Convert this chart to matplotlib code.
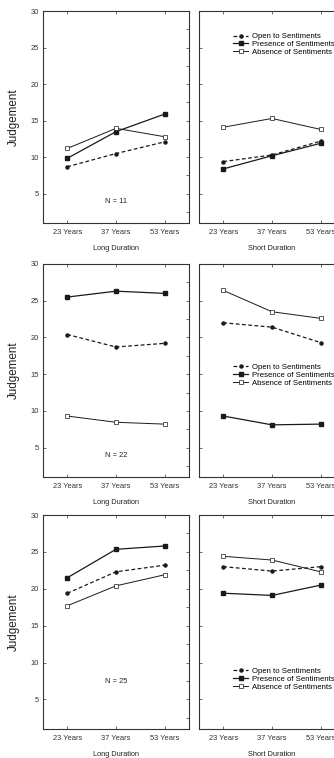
import matplotlib.pyplot as plt
from matplotlib.ticker import MultipleLocator

plt.rcParams['font.family'] = ['Liberation Sans', 'DejaVu Sans']

years = ['23 Years', '37 Years', '53 Years']
durations = ['Long Duration', 'Short Duration']
group_n = [11, 22, 25]

# values per group: [long, short]
open_vals = [
    [[8.7, 10.5, 12.1], [9.4, 10.3, 12.2]],
    [[20.4, 18.7, 19.2], [22.0, 21.4, 19.3]],
    [[19.4, 22.3, 23.2], [23.0, 22.4, 23.0]],
]
presence_vals = [
    [[9.85, 13.5, 15.9], [8.4, 10.2, 11.9]],
    [[25.5, 26.3, 26.0], [9.3, 8.1, 8.2]],
    [[21.5, 25.35, 25.8], [19.4, 19.1, 20.5]],
]
absence_vals = [
    [[11.2, 13.95, 12.8], [14.1, 15.3, 13.8]],
    [[9.3, 8.45, 8.2], [26.4, 23.5, 22.6]],
    [[17.7, 20.4, 21.9], [24.4, 23.9, 22.3]],
]

# legend anchor (axes coords) for the short-duration panel of each row
legend_pos = [(0.235, 0.897), (0.235, 0.532), (0.235, 0.287)]
n_pos = [0.1, 0.1, 0.22]

W, H = 334, 758
fig = plt.figure(figsize=(W / 100, H / 100), dpi=100)

rows = [(11, 223), (264, 477), (515, 729)]
cols = [43, 199]
axw = 146

ink = '#1a1a1a'

for r, (top, bot) in enumerate(rows):
    for c, x0 in enumerate(cols):
        ax = fig.add_axes([x0 / W, 1 - bot / H, axw / W, (bot - top) / H])
        xs = range(len(years))
        ax.plot(xs, open_vals[r][c], color=ink, ls=(0, (3, 2)), lw=0.9,
                marker='o', ms=2.2, mfc=ink, mec=ink,
                label='Open to Sentiments')
        ax.plot(xs, presence_vals[r][c], color=ink, ls='-', lw=0.9,
                marker='s', ms=2.8, mfc=ink, mec=ink,
                label='Presence of Sentiments')
        ax.plot(xs, absence_vals[r][c], color=ink, ls='-', lw=0.7,
                marker='s', ms=2.8, mfc='white', mec=ink, mew=0.5,
                label='Absence of Sentiments')

        ax.set_xlim(-0.5, 2.5)
        ax.set_ylim(1, 30)
        ax.set_xticks(list(xs))
        ax.set_xticklabels(years, fontsize=5.4, color='#222222')
        ax.yaxis.set_major_locator(MultipleLocator(5))
        ax.yaxis.set_minor_locator(MultipleLocator(2.5))
        ax.tick_params(which='both', direction='in', length=2, width=0.5,
                       top=True, right=True, pad=4, colors='#333333')
        ax.tick_params(which='minor', left=False, length=2)
        ax.tick_params(axis='y', labelsize=5.4, pad=3)
        for s in ax.spines.values():
            s.set_linewidth(0.8)
            s.set_color('#333333')
        ax.set_xlabel(durations[c], fontsize=5.3, labelpad=7, color='#222222')

        if c == 0:
            ax.set_ylabel('Judgement', fontsize=8.4, color='#222222')
            ax.yaxis.set_label_coords(-0.16, 0.5)
            ax.text(0.5, n_pos[r], 'N = %d' % group_n[r],
                    transform=ax.transAxes, ha='center', va='center',
                    fontsize=5.4, color='#222222')
        else:
            ax.set_yticklabels([])
            ax.legend(loc='upper left', bbox_to_anchor=legend_pos[r],
                      frameon=False, fontsize=5.6, handlelength=1.9,
                      handletextpad=0.45, labelspacing=0.05,
                      borderpad=0, borderaxespad=0)

fig.savefig('out.png', dpi=100)
